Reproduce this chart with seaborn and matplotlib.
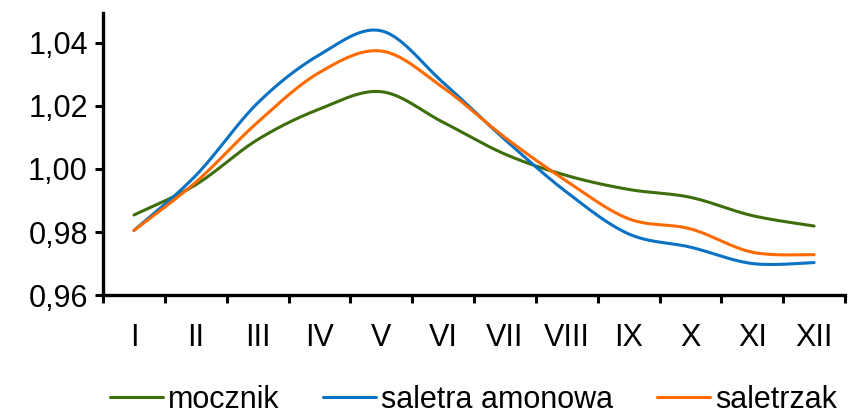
import numpy as np
import pandas as pd
import matplotlib
matplotlib.use("Agg")
import matplotlib.pyplot as plt
import seaborn as sns
from matplotlib.ticker import FixedLocator, FuncFormatter

months = ["I", "II", "III", "IV", "V", "VI", "VII", "VIII", "IX", "X", "XI", "XII"]
mocznik = [0.9854, 0.9950, 1.0093, 1.0190, 1.0245, 1.0148, 1.0047, 0.9979, 0.9935, 0.9910, 0.9852, 0.9819]
saletra_amonowa = [0.9805, 0.9979, 1.0209, 1.0362, 1.0438, 1.0274, 1.0093, 0.9926, 0.9794, 0.9752, 0.9700, 0.9703]
saletrzak = [0.9805, 0.9958, 1.0148, 1.0306, 1.0374, 1.0258, 1.0100, 0.9961, 0.9842, 0.9810, 0.9736, 0.9728]
series_names = ["mocznik", "saletra amonowa", "saletrzak"]
colors = ["#3E6E0B", "#0A72C4", "#FF6A00"]


def smooth(xs, ys, n=30):
    """Catmull-Rom style smoothing (like Excel 'smoothed line') for display."""
    xs = np.asarray(xs, float)
    ys = np.asarray(ys, float)
    px = np.concatenate([[xs[0]], xs, [xs[-1]]])
    py = np.concatenate([[ys[0]], ys, [ys[-1]]])
    outx, outy = [], []
    for i in range(1, len(px) - 2):
        p0 = np.array([px[i - 1], py[i - 1]])
        p1 = np.array([px[i], py[i]])
        p2 = np.array([px[i + 1], py[i + 1]])
        p3 = np.array([px[i + 2], py[i + 2]])
        c1 = p1 + (p2 - p0) / 6.0
        c2 = p2 - (p3 - p1) / 6.0
        t = np.linspace(0, 1, n, endpoint=(i == len(px) - 3))[:, None]
        b = ((1 - t) ** 3) * p1 + 3 * ((1 - t) ** 2) * t * c1 + 3 * (1 - t) * t ** 2 * c2 + t ** 3 * p2
        outx.append(b[:, 0])
        outy.append(b[:, 1])
    return np.concatenate(outx), np.concatenate(outy)


sns.set_style("white")
plt.rcParams["font.family"] = ["Liberation Sans", "DejaVu Sans"]
plt.rcParams["text.color"] = "black"
plt.rcParams["xtick.color"] = "black"
plt.rcParams["ytick.color"] = "black"
plt.rcParams["xtick.labelcolor"] = "black"
plt.rcParams["ytick.labelcolor"] = "black"

fig = plt.figure(figsize=(8.48, 4.15), dpi=100)
ax = fig.add_axes([0.1215, 0.289, 0.875, 0.680])

xpos = np.arange(len(months))
frames = []
for name, vals in zip(series_names, [mocznik, saletra_amonowa, saletrzak]):
    sx, sy = smooth(xpos, vals)
    frames.append(pd.DataFrame({"x": sx, "y": sy, "seria": name}))
df = pd.concat(frames, ignore_index=True)

sns.lineplot(data=df, x="x", y="y", hue="seria", palette=colors, linewidth=2.2,
             sort=False, estimator=None, ax=ax)

ax.set_xlim(-0.5, len(months) - 0.5)
ax.set_ylim(0.96, 1.0495)
ax.set_xlabel("")
ax.set_ylabel("")

# y ticks
ax.yaxis.set_major_locator(FixedLocator([0.96, 0.98, 1.00, 1.02, 1.04]))
ax.yaxis.set_major_formatter(FuncFormatter(lambda v, p: f"{v:.2f}".replace(".", ",")))
ax.tick_params(axis="y", which="major", direction="out", length=6, width=2.2,
               labelsize=22, pad=5, left=True, color="black", labelcolor="black")

# x ticks: marks between categories, labels at centers
ax.xaxis.set_major_locator(FixedLocator(np.arange(-0.5, len(months), 1.0)))
ax.xaxis.set_major_formatter(FuncFormatter(lambda v, p: ""))
ax.set_xticks(xpos, minor=True)
ax.set_xticklabels(months, minor=True)
ax.tick_params(axis="x", which="major", direction="out", length=6, width=2.2,
               bottom=True, color="black")
ax.tick_params(axis="x", which="minor", length=0, labelsize=22, pad=20, labelcolor="black")

for s in ["top", "right"]:
    ax.spines[s].set_visible(False)
for s in ["left", "bottom"]:
    ax.spines[s].set_linewidth(2.4)
    ax.spines[s].set_color("black")

handles, labels = ax.get_legend_handles_labels()
ax.legend_.remove()
fig.legend(handles, labels, loc="center", bbox_to_anchor=(0.558, 0.036), ncol=3,
           frameon=False, fontsize=22, handlelength=1.73, handletextpad=0.16,
           columnspacing=1.44, borderaxespad=0, borderpad=0, labelcolor="black")

fig.savefig("out.png", dpi=100)
